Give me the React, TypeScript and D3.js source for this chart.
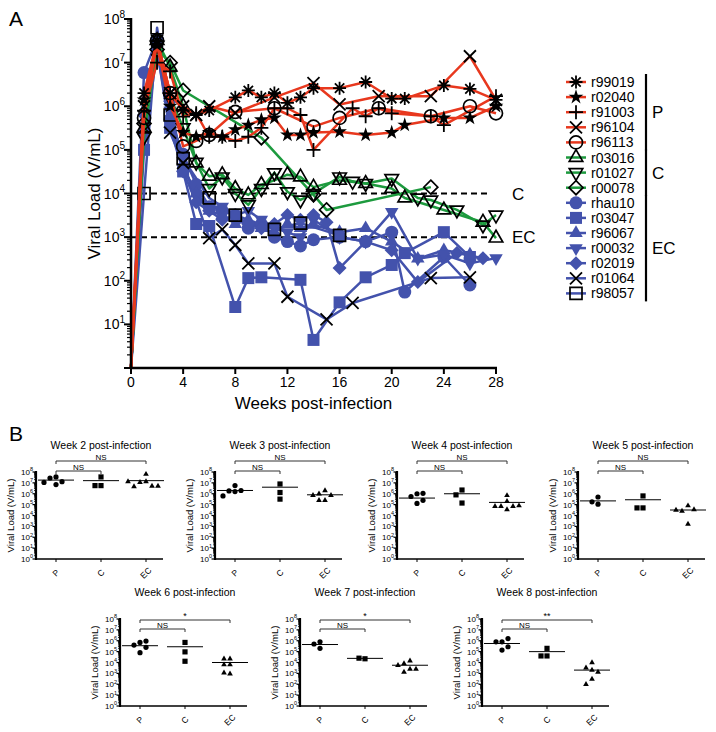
import * as d3 from 'd3';

const FONT = '"Liberation Sans", Arial, Helvetica, sans-serif';

// ---------- panel A: [week, viral load (V/mL)] per animal ----------
// progressors (P)
const r99019 = [[0, 1], [1, 2e6], [2, 3.2e7], [3, 2e6], [4, 8e5], [5, 6.3e5], [6, 8e5], [8, 1.6e6], [9, 2.3e6], [10, 1.6e6], [11, 2e6], [12, 1.2e6], [13, 1.6e6], [14, 2.6e6], [16, 2.6e6], [18, 3.6e6], [20, 1.5e6], [21, 1.5e6], [24, 3e6], [26, 2.5e6], [28, 1.4e6]];
const r02040 = [[0, 1], [1, 1.4e6], [2, 2.5e7], [3, 1e6], [4, 2.5e5], [5, 2e5], [6, 2.5e5], [7, 2e5], [8, 2.9e5], [9, 3.7e5], [10, 4.9e5], [11, 5.4e5], [12, 2.2e5], [13, 2.2e5], [14, 2.5e5], [16, 2.6e5], [18, 2.2e5], [20, 2.5e5], [21, 3.7e5], [24, 5.4e5], [26, 5.4e5], [28, 1e6]];
const r91003 = [[0, 1], [1, 7.9e5], [2, 1e7], [3, 6.3e6], [4, 5.8e5], [5, 6.9e5], [6, 2e5], [7, 2e5], [8, 1.6e5], [9, 2e5], [10, 3.2e5], [11, 9e5], [12, 9e5], [13, 6.3e5], [14, 1e5], [17, 9e5], [18, 5.9e5], [19, 9e5], [20, 6.9e5], [23, 5.9e5], [24, 3.7e5], [28, 1.7e6]];
const r96104 = [[0, 1], [1, 1e6], [2, 3.2e7], [3, 2e6], [4, 1e6], [5, 6.3e5], [6, 1e6], [8, 7e5], [11, 1.6e6], [14, 3.4e6], [16, 1.1e6], [19, 1.7e6], [23, 1.7e6], [26, 1.4e7], [28, 1.4e6]];
const r96113 = [[0, 1], [1, 5.4e5], [2, 3.2e7], [3, 2e6], [4, 1.2e5], [5, 1.6e5], [6, 2.2e5], [8, 7.4e5], [11, 9e5], [14, 3.4e5], [16, 5.4e5], [19, 9e5], [23, 5.9e5], [26, 1e6], [28, 6.9e5]];
// controllers (C)
const r03016 = [[0, 1], [1, 3.2e5], [2, 3.2e7], [3, 7.9e6], [4, 1e6], [5, 5e4], [6, 2.5e4], [7, 2.7e4], [8, 1.3e4], [9, 9.3e3], [10, 1.6e4], [11, 2e4], [12, 2.7e4], [13, 2.4e4], [14, 1.4e4], [16, 2e4], [18, 1.7e4], [20, 1.3e4], [21, 7.9e3], [24, 4.2e3], [27, 2.2e3], [28, 950]];
const r01027 = [[0, 1], [1, 2e5], [2, 2.5e7], [3, 1.6e6], [4, 3.2e5], [5, 5.2e4], [6, 1.3e4], [7, 2.4e4], [8, 1e4], [9, 5.5e3], [10, 1.3e4], [11, 3e4], [12, 1.1e4], [13, 7.1e3], [14, 1e4], [16, 2.4e4], [17, 1.9e4], [18, 1.7e4], [20, 2.2e4], [22, 7.9e3], [23, 7.1e3], [25, 4.2e3], [27, 1.9e3], [28, 3.2e3]];
const r00078 = [[0, 1], [1, 4e5], [2, 2e7], [3, 1e7], [4, 2.3e6], [10, 1.9e5], [14, 9.3e3], [15, 4.2e3], [23, 1.4e4]];
// elite controllers (EC)
const rhau10 = [[0, 1], [1, 5.9e6], [2, 3.5e7], [3, 5e5], [4, 7.9e4], [5, 1.6e4], [6, 5e3], [7, 4e3], [8, 3.2e3], [9, 1.6e3], [10, 2e3], [11, 1e3], [12, 790], [13, 630], [14, 870], [16, 1e3], [18, 790], [20, 1.3e3], [21, 55], [24, 350], [26, 80]];
const r03047 = [[0, 1], [1, 1e5], [2, 2e7], [3, 3.2e5], [4, 3.2e4], [5, 2e3], [6, 1.8e3], [8, 25], [9, 115], [10, 120], [13, 105], [14, 4.4], [16, 32], [18, 120], [20, 230], [21, 430], [24, 1.3e3], [26, 350]];
const r96067 = [[0, 1], [1, 3.2e5], [2, 2.5e7], [3, 4e5], [4, 4e4], [5, 1e4], [6, 4e3], [7, 3.2e3], [8, 2e3], [9, 2.5e3], [10, 1.6e3], [11, 1.3e3], [12, 2e3], [13, 1.6e3], [14, 1.9e3], [16, 1.3e3], [18, 1.6e3], [20, 790], [22, 320], [24, 500], [26, 400]];
const r00032 = [[0, 1], [1, 2e5], [2, 3.2e7], [3, 7.9e5], [4, 4e4], [5, 1e4], [6, 5e3], [7, 5e3], [8, 3.2e3], [9, 4e3], [10, 2.5e3], [11, 1.6e3], [12, 1.3e3], [13, 1e3], [14, 2.5e3], [16, 1e3], [18, 790], [20, 3.8e3], [22, 320], [24, 400], [26, 250], [28, 330]];
const r02019 = [[0, 1], [1, 6.3e5], [2, 1.6e7], [3, 1.3e6], [4, 3.2e4], [5, 6.3e3], [6, 4e3], [7, 2.5e3], [8, 3.2e3], [9, 2e3], [10, 1.6e3], [11, 2e3], [12, 3.2e3], [13, 2.5e3], [14, 3.2e3], [15, 2.2e3], [16, 195], [18, 790], [20, 500], [22, 93], [25, 430], [27, 330]];
const r01064 = [[0, 1], [1, 3.2e5], [2, 2e7], [3, 2.5e5], [4, 5e4], [6, 950], [7, 1.5e3], [8, 660], [9, 250], [11, 250], [12, 43], [15, 13], [17, 31], [23, 115], [26, 120]];
const r98057 = [[0, 1], [1, 1e4], [2, 6.3e7], [3, 6.3e5], [4, 6.3e4], [6, 7.9e3], [8, 3.2e3], [11, 1.5e3], [13, 2.1e3], [16, 1.1e3]];

const weekTicks = [0, 4, 8, 12, 16, 20, 24, 28];
const groupNames = ['P', 'C', 'EC'];
const cutoffs = [{ v: 1e4, label: 'C' }, { v: 1e3, label: 'EC' }];

const colors: any = { P: '#e8381e', C: '#1d9a3e', EC: '#4352ac' };

const animals = [
  { id: 'r99019', group: 'P', shape: 'asterisk', data: r99019 },
  { id: 'r02040', group: 'P', shape: 'star', data: r02040 },
  { id: 'r91003', group: 'P', shape: 'plus', data: r91003 },
  { id: 'r96104', group: 'P', shape: 'x', data: r96104 },
  { id: 'r96113', group: 'P', shape: 'circle', data: r96113 },
  { id: 'r03016', group: 'C', shape: 'triangle', data: r03016 },
  { id: 'r01027', group: 'C', shape: 'triangleDown', data: r01027 },
  { id: 'r00078', group: 'C', shape: 'diamond', data: r00078 },
  { id: 'rhau10', group: 'EC', shape: 'circle', filled: true, data: rhau10 },
  { id: 'r03047', group: 'EC', shape: 'square', filled: true, data: r03047 },
  { id: 'r96067', group: 'EC', shape: 'triangle', filled: true, data: r96067 },
  { id: 'r00032', group: 'EC', shape: 'triangleDown', filled: true, data: r00032 },
  { id: 'r02019', group: 'EC', shape: 'diamond', filled: true, data: r02019 },
  { id: 'r01064', group: 'EC', shape: 'x', data: r01064 },
  { id: 'r98057', group: 'EC', shape: 'square', data: r98057 },
];

// ---------- panel B: viral load per group at weeks 2-8 ----------
const weekTitles = ['Week 2 post-infection', 'Week 3 post-infection', 'Week 4 post-infection', 'Week 5 post-infection', 'Week 6 post-infection', 'Week 7 post-infection', 'Week 8 post-infection'];
const wkP = [
  [3.5e7, 2.8e7, 1.3e7, 1.1e7, 7e6],
  [5.6e6, 1.8e6, 1.6e6, 2e6, 6.3e5],
  [1e6, 5.6e5, 1.1e6, 1.3e5, 2.5e5],
  [5e5, 1.1e5, 1.8e5],
  [7e5, 4e5, 9.3e5, 2.5e5, 8e4],
  [8e5, 5e5, 2e5],
  [8e5, 8e5, 1.6e6, 1.4e5, 2.8e5],
];
const wkC = [
  [3.5e7, 5.6e6, 5.6e6],
  [7.9e6, 1.3e6, 3.2e5],
  [2.2e6, 7.9e5, 1.4e5],
  [6.3e5, 5e4, 5e4],
  [7e5, 9.5e4, 1.3e4],
  [2.2e4, 2.5e4],
  [2e5, 4e4, 4e4],
];
const wkEC = [
  [6.3e7, 1.3e7, 1.1e7, 5e6, 4.5e6, 5e6, 1.3e7],
  [2e6, 1e6, 7.1e5, 7.1e5, 2.5e5, 2.5e5],
  [7e5, 2e5, 7e4, 7e4, 7e4, 8e4, 3.5e4],
  [8e4, 2.5e4, 3.5e4, 3.2e4, 1.6e3],
  [2.2e4, 2.2e4, 6.3e3, 6.3e3, 900, 1.1e3],
  [1.4e4, 8e3, 2.5e3, 2.5e3, 1.3e3, 5.6e3],
  [1e4, 3.2e3, 2e3, 1.3e3, 300, 100],
];
const wkMean = [
  [1.8e7, 1.6e7, 1.6e7],
  [2e6, 4e6, 8e5],
  [4e5, 1e6, 1.6e5],
  [2.2e5, 2.8e5, 3.2e4],
  [3.5e5, 2.8e5, 1e4],
  [4.5e5, 2.4e4, 5.6e3],
  [5.6e5, 1e5, 2e3],
];
const sigFar = ['NS', 'NS', 'NS', 'NS', '*', '*', '**'];
const sigNear = ['NS', 'NS', 'NS', 'NS', 'NS', 'NS', 'NS'];

function symPath(shape: string, r: number): string {
  const a = r * 0.72;
  switch (shape) {
    case 'asterisk':
      return `M${-r},0H${r}M0,${-r}V${r}M${-a},${-a}L${a},${a}M${-a},${a}L${a},${-a}`;
    case 'plus':
      return `M${-r},0H${r}M0,${-r}V${r}`;
    case 'x':
      return `M${-r},${-r}L${r},${r}M${-r},${r}L${r},${-r}`;
    case 'circle':
      return d3.symbol(d3.symbolCircle, Math.PI * r * r)() as string;
    case 'square':
      return `M${-r},${-r}H${r}V${r}H${-r}Z`;
    case 'diamond':
      return `M0,${-r}L${r},0L0,${r}L${-r},0Z`;
    case 'triangle':
      return `M0,${-r}L${r * 0.866},${r * 0.5}L${-r * 0.866},${r * 0.5}Z`;
    case 'triangleDown':
      return `M0,${r}L${r * 0.866},${-r * 0.5}L${-r * 0.866},${-r * 0.5}Z`;
    case 'star':
      return d3.symbol(d3.symbolStar, r * r * 1.6)() as string;
  }
  return '';
}

const sizeA: any = { asterisk: 6.5, star: 6.5, plus: 7, x: 6, circle: 6.5, square: 6, diamond: 7, triangle: 7.8, triangleDown: 7.8 };

function Marker({ shape, filled, color, x, y, r }: any) {
  const d = symPath(shape, r);
  const lineOnly = shape === 'asterisk' || shape === 'plus' || shape === 'x';
  if (lineOnly) return <path d={d} transform={`translate(${x},${y})`} fill="none" stroke="#000" strokeWidth={1.8} />;
  if (shape === 'star') return <path d={d} transform={`translate(${x},${y})`} fill="#000" />;
  if (filled) return <path d={d} transform={`translate(${x},${y})`} fill={color} />;
  return <path d={d} transform={`translate(${x},${y})`} fill="none" stroke="#000" strokeWidth={1.7} />;
}

function Pow({ x, y, k, size, sup, anchor = 'end' }: any) {
  return (
    <text x={x} y={y} fontSize={size} textAnchor={anchor} fontFamily={FONT} fill="#000">
      10<tspan dy={-size * 0.45} fontSize={sup}>{k}</tspan>
    </text>
  );
}

function PanelA() {
  const x = d3.scaleLinear([0, 28], [131, 496]);
  const y = d3.scaleLog([1, 1e8], [368, 19]);
  const line = d3.line<any>().x(d => x(d[0])).y(d => y(d[1]));
  const majors = d3.range(0, 9).map(k => Math.pow(10, k));
  const minors = d3.range(0, 8).flatMap(k => d3.range(2, 10).map(m => m * Math.pow(10, k)));
  const order = ['EC', 'C', 'P'];
  const legY = (i: number) => 82 + i * 15.1;
  return (
    <g fontFamily={FONT} fill="#000">
      <text x={9} y={26} fontSize={21}>A</text>
      {/* cutoff lines */}
      {cutoffs.map(c => (
        <g key={c.label}>
          <line x1={x(0)} x2={x(27.6)} y1={y(c.v)} y2={y(c.v)} stroke="#000" strokeWidth={2} strokeDasharray="6,4" />
          <text x={512} y={y(c.v) + 6} fontSize={17}>{c.label}</text>
        </g>
      ))}
      {order.map(g => (
        <g key={g}>
          {animals.filter(a => a.group === g).map(a => (
            <path key={a.id} d={line(a.data as any) as string} fill="none" stroke={colors[g]} strokeWidth={2.5} strokeLinejoin="round" />
          ))}
          {animals.filter(a => a.group === g).map(a => (
            <g key={a.id + 'm'}>
              {a.data.filter(d => d[0] > 0).map((d, i) => (
                <Marker key={i} shape={a.shape} filled={a.filled} color={colors[g]} x={x(d[0])} y={y(d[1])} r={sizeA[a.shape]} />
              ))}
            </g>
          ))}
        </g>
      ))}
      {/* y axis */}
      <line x1={131} x2={131} y1={y(1e8) - 1} y2={y(1) + 1} stroke="#000" strokeWidth={2.5} />
      {minors.map((v, i) => (
        <line key={i} x1={131} x2={127} y1={y(v)} y2={y(v)} stroke="#000" strokeWidth={1.2} />
      ))}
      {majors.map(v => (
        <line key={v} x1={131} x2={124} y1={y(v)} y2={y(v)} stroke="#000" strokeWidth={2} />
      ))}
      {majors.slice(1).map((v, i) => (
        <Pow key={v} x={125} y={y(v) + 5} k={i + 1} size={14} sup={10} />
      ))}
      <text transform={`translate(100,${(y(1) + y(1e8)) / 2}) rotate(-90)`} textAnchor="middle" fontSize={17}>Viral Load (V/mL)</text>
      {/* x axis */}
      <line x1={130} x2={x(28) + 1} y1={368} y2={368} stroke="#000" strokeWidth={2.5} />
      {weekTicks.map(t => (
        <g key={t}>
          <line x1={x(t)} x2={x(t)} y1={368} y2={374} stroke="#000" strokeWidth={2} />
          <text x={x(t)} y={387} fontSize={14} textAnchor="middle">{t}</text>
        </g>
      ))}
      <text x={x(14)} y={409} fontSize={17} textAnchor="middle">Weeks post-infection</text>
      {/* legend */}
      {animals.map((a, i) => (
        <g key={a.id}>
          <line x1={566} x2={586} y1={legY(i)} y2={legY(i)} stroke={colors[a.group]} strokeWidth={2.5} />
          <Marker shape={a.shape} filled={a.filled} color={colors[a.group]} x={576} y={legY(i)} r={sizeA[a.shape]} />
          <text x={591} y={legY(i) + 5} fontSize={14}>{a.id}</text>
        </g>
      ))}
      {groupNames.map(g => {
        const idx = animals.map((a, i) => (a.group === g ? i : -1)).filter(i => i >= 0);
        const y0 = legY(idx[0]) - 8, y1 = legY(idx[idx.length - 1]) + 8;
        return (
          <g key={g}>
            <line x1={646} x2={646} y1={y0} y2={y1} stroke="#000" strokeWidth={2.2} />
            <text x={652} y={(y0 + y1) / 2 + 6} fontSize={17}>{g}</text>
          </g>
        );
      })}
    </g>
  );
}

const shapeB = ['circle', 'square', 'triangle'];
const sizeB: any = { circle: 2.6, square: 2.6, triangle: 3.3 };

function swarm(vals: number[], ys: any, cx: number) {
  const placed: { x: number; y: number; v: number }[] = [];
  const offs = [0, -6, 6, -12, 12, -18, 18];
  vals.forEach(v => {
    const py = ys(v);
    for (const o of offs) {
      const px = cx + o;
      if (placed.every(p => Math.hypot(p.x - px, p.y - py) > 5.5)) {
        placed.push({ x: px, y: py, v });
        return;
      }
    }
    placed.push({ x: cx, y: py, v });
  });
  return placed;
}

function SmallPanel({ i, x0, yTop, brFar, brNear }: any) {
  const yBot = yTop + 87;
  const ys = d3.scaleLog([1, 1e8], [yBot, yTop]);
  const xs = d3.scalePoint(groupNames, [x0 + 20, x0 + 110]);
  const sets = [wkP[i], wkC[i], wkEC[i]];
  const majors = d3.range(0, 9).map(k => Math.pow(10, k));
  const minors = d3.range(0, 8).flatMap(k => d3.range(2, 10).map(m => m * Math.pow(10, k)));
  const bracket = (ya: number, g2: string, label: string) => {
    const xa = xs('P') as number, xb = xs(g2) as number;
    return (
      <g>
        <path d={`M${xa},${ya + 3}V${ya}H${xb}V${ya + 3}`} fill="none" stroke="#333" strokeWidth={1} />
        <text x={(xa + xb) / 2} y={ya - 1.5} fontSize={label === 'NS' ? 8 : 9} textAnchor="middle" fill="#000">{label}</text>
      </g>
    );
  };
  return (
    <g fontFamily={FONT} fill="#000">
      <text x={x0 + 65} y={yTop - 23} fontSize={10.5} textAnchor="middle">{weekTitles[i]}</text>
      {bracket(yTop + brFar, 'EC', sigFar[i])}
      {bracket(yTop + brNear, 'C', sigNear[i])}
      <line x1={x0} x2={x0} y1={yTop - 1} y2={yBot + 1} stroke="#000" strokeWidth={2.2} />
      {minors.map((v, j) => (
        <line key={j} x1={x0} x2={x0 - 2} y1={ys(v)} y2={ys(v)} stroke="#000" strokeWidth={0.8} />
      ))}
      {majors.map((v, k) => (
        <g key={v}>
          <line x1={x0} x2={x0 - 3.5} y1={ys(v)} y2={ys(v)} stroke="#000" strokeWidth={1.2} />
          <Pow x={x0 - 3} y={ys(v) + 3} k={k} size={8} sup={5.5} />
        </g>
      ))}
      <text transform={`translate(${x0 - 22},${(yTop + yBot) / 2}) rotate(-90)`} textAnchor="middle" fontSize={9.5}>Viral Load (V/mL)</text>
      <line x1={x0 - 1} x2={x0 + 127} y1={yBot} y2={yBot} stroke="#000" strokeWidth={1.6} />
      {groupNames.map((g, gi) => {
        const cx = xs(g) as number;
        return (
          <g key={g}>
            <line x1={cx} x2={cx} y1={yBot} y2={yBot + 3} stroke="#000" strokeWidth={1} />
            <text transform={`translate(${cx + 2},${yBot + 16}) rotate(-45)`} textAnchor="middle" fontSize={8.5}>{g}</text>
            <line x1={cx - 18} x2={cx + 18} y1={ys(wkMean[i][gi])} y2={ys(wkMean[i][gi])} stroke="#000" strokeWidth={1} />
            {swarm(sets[gi], ys, cx).map((p, j) => (
              <path key={j} d={symPath(shapeB[gi], sizeB[shapeB[gi]])} transform={`translate(${p.x},${p.y})`} fill="#000" />
            ))}
          </g>
        );
      })}
    </g>
  );
}

const rowTop = [472, 619];
const panelX = [[36, 215, 397, 578], [120, 300, 482]];

export default function App() {
  return (
    <svg width={716} height={732} style={{ position: 'absolute', left: 0, top: 0, background: '#fff' }}>
      <rect width={716} height={732} fill="#fff" />
      <PanelA />
      <text x={9} y={441} fontSize={21} fontFamily={FONT}>B</text>
      {panelX[0].map((x0, j) => (
        <SmallPanel key={j} i={j} x0={x0} yTop={rowTop[0]} brFar={-11} brNear={-1} />
      ))}
      {panelX[1].map((x0, j) => (
        <SmallPanel key={j + 4} i={j + 4} x0={x0} yTop={rowTop[1]} brFar={1} brNear={10} />
      ))}
    </svg>
  );
}
